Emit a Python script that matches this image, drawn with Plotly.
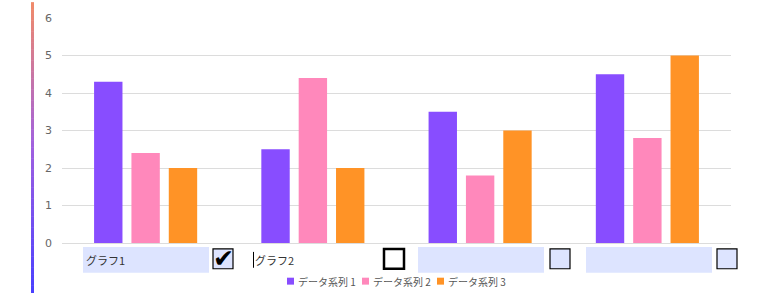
import plotly.graph_objects as go

categories = ["グラフ1", "グラフ2", "グラフ3", "グラフ4"]
series_names = ["データ系列 1", "データ系列 2", "データ系列 3"]
series1 = [4.3, 2.5, 3.5, 4.5]
series2 = [2.4, 4.4, 1.8, 2.8]
series3 = [2.0, 2.0, 3.0, 5.0]
y_ticks = [0, 1, 2, 3, 4, 5, 6]
box_labels = ["グラフ1", "グラフ2", "", ""]
checked = [True, False, False, False]

colors = ["#884dff", "#ff88bb", "#ff9326"]

W, H = 765, 293
L, R, T, B = 62, 34, 16, 50
PW, PH = W - L - R, H - T - B


def px(x):
    return (x - L) / PW


def py(y):
    return (H - B - y) / PH


fig = go.Figure()
for name, vals, c in zip(series_names, [series1, series2, series3], colors):
    fig.add_trace(go.Bar(x=categories, y=vals, name=name, marker_color=c,
                         marker_line_width=0, showlegend=False))

shapes = []
annotations = []

# gradient vertical line on left
n = 80
c_top = (240, 138, 106)
c_mid = (160, 96, 224)
c_bot = (74, 64, 255)
for i in range(n):
    t = i / (n - 1)
    if t < 0.5:
        a, b, u = c_top, c_mid, t / 0.5
    else:
        a, b, u = c_mid, c_bot, (t - 0.5) / 0.5
    col = "rgb(%d,%d,%d)" % tuple(round(a[k] + (b[k] - a[k]) * u) for k in range(3))
    y0 = H * i / n
    y1 = H * (i + 1) / n + 0.5
    shapes.append(dict(type="rect", xref="paper", yref="paper",
                       x0=px(31), x1=px(34), y0=py(y0), y1=py(y1),
                       fillcolor=col, line_width=0, layer="above"))

# input boxes & checkboxes under each group
box_x = [83, 250, 418, 586]
check_x = [213, 384, 550, 717]
for i in range(4):
    bx = box_x[i]
    if i != 1:
        shapes.append(dict(type="rect", xref="paper", yref="paper",
                           x0=px(bx), x1=px(bx + 126), y0=py(247), y1=py(273),
                           fillcolor="#dde4ff", line_width=0))
    cx = check_x[i]
    thick = (i == 1)
    shapes.append(dict(type="rect", xref="paper", yref="paper",
                       x0=px(cx), x1=px(cx + 20), y0=py(249), y1=py(269),
                       fillcolor="white" if thick else "#dde4ff",
                       line=dict(color="black", width=2.5 if thick else 1.2)))
    if checked[i]:
        annotations.append(dict(xref="paper", yref="paper", x=px(cx + 10.5), y=py(259),
                                xanchor="center", yanchor="middle",
                                text="✔", showarrow=False,
                                font=dict(size=25, color="black", family="DejaVu Sans")))
    if box_labels[i]:
        annotations.append(dict(xref="paper", yref="paper", x=px(bx + 1 if i == 0 else 253),
                                y=py(260), xanchor="left", yanchor="middle",
                                text=box_labels[i], showarrow=False,
                                font=dict(size=11, color="#333", family="Noto Sans CJK JP")))
# text cursor in second box
shapes.append(dict(type="line", xref="paper", yref="paper",
                   x0=px(253.5), x1=px(253.5), y0=py(252), y1=py(268),
                   line=dict(color="black", width=1)))

# legend
leg_x = [287, 362, 437]
for name, c, lx in zip(series_names, colors, leg_x):
    shapes.append(dict(type="rect", xref="paper", yref="paper",
                       x0=px(lx), x1=px(lx + 7), y0=py(278), y1=py(285),
                       fillcolor=c, line_width=0))
    annotations.append(dict(xref="paper", yref="paper", x=px(lx + 9), y=py(281.5),
                            xanchor="left", yanchor="middle", text=name, showarrow=False,
                            font=dict(size=10, color="#555", family="Noto Sans CJK JP")))

fig.update_layout(
    width=W, height=H,
    margin=dict(l=L, r=R, t=T, b=B),
    paper_bgcolor="white", plot_bgcolor="white",
    barmode="group", bargap=0.33, bargroupgap=0.24,
    shapes=shapes, annotations=annotations,
    showlegend=False,
    xaxis=dict(showticklabels=False, showgrid=False, zeroline=False, showline=False,
               ticks=""),
    yaxis=dict(range=[0, 6], tickvals=y_ticks, showgrid=True, gridcolor="#dcdcdc",
               gridwidth=1, zeroline=True, zerolinecolor="#dcdcdc", zerolinewidth=1,
               showline=False, ticks="", ticklabelstandoff=9,
               tickfont=dict(size=11, color="#666", family="DejaVu Sans")),
)

fig.write_html("out.html")
